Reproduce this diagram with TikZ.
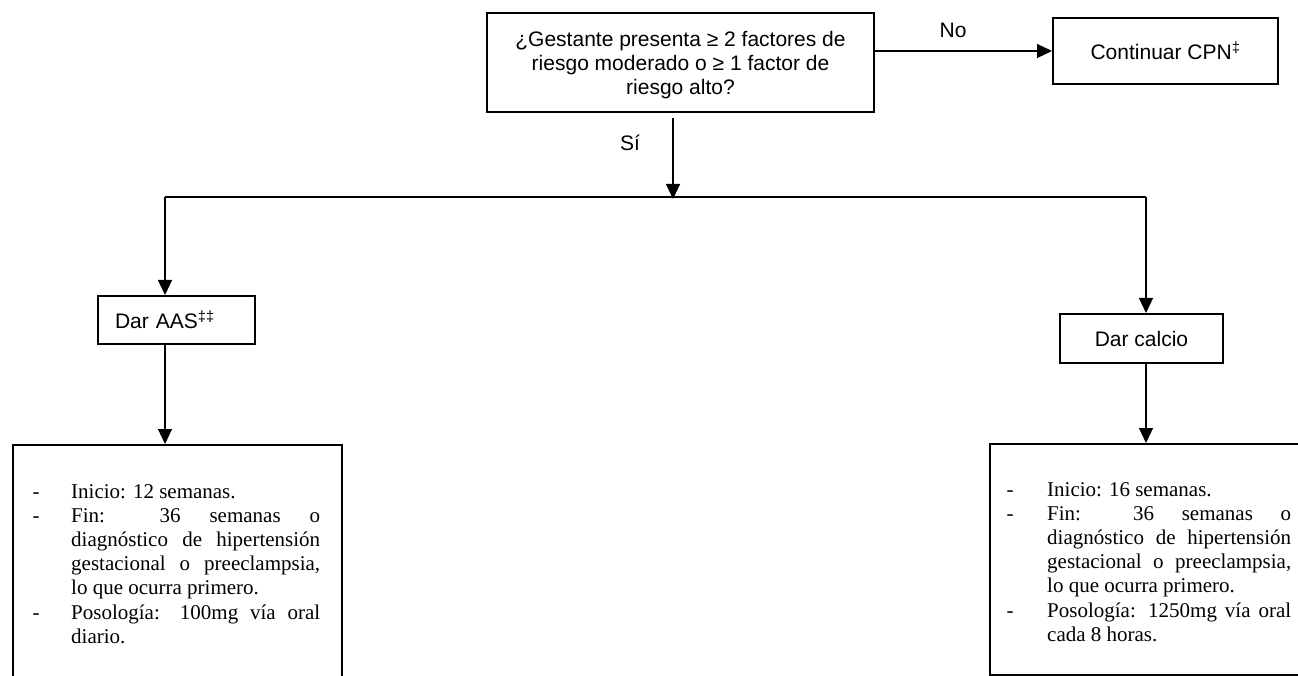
\documentclass[tikz,border=0pt]{standalone}
\usepackage{fontspec}
\setmainfont{Liberation Serif}
\setsansfont{Liberation Sans}
\usetikzlibrary{arrows.meta}
\begin{document}
\begin{tikzpicture}[x=1pt,y=-1pt,
  box/.style={draw, line width=2pt, inner sep=0pt, font=\sffamily\fontsize{21}{24}\selectfont},
  conn/.style={line width=1.1pt},
  arr/.style={conn, -{Triangle[width=14pt,length=15pt]}},
  lbl/.style={font=\sffamily\fontsize{21}{24}\selectfont, inner sep=0pt},
  listbox/.style={font=\fontsize{21}{24.2}\selectfont, inner sep=0pt, anchor=north west, align=justify}]
\useasboundingbox (0,0) rectangle (1298,676);
\clip (0,0) rectangle (1298,676);

\node[box, minimum width=387pt, minimum height=99pt] (q) at (680.5,62.5) {};
\node[lbl, align=center] (qt) at (680.5,65) {¿Gestante presenta ≥ 2 factores de\\riesgo moderado o ≥ 1 factor de\\riesgo alto?};
\node[box, minimum width=225pt, minimum height=66pt] (cpn) at (1165.5,51) {Continuar CPN\textsuperscript{‡}};
\draw[arr] (q.east |- cpn.west) -- (cpn.west);
\node[lbl] (no) at (953,30) {No};

\coordinate (s1) at (673,118);
\coordinate (j) at (673,199);
\draw[arr] (s1) -- (j);
\node[lbl] (si) at (630,143) {Sí};

\coordinate (hl) at (165,197);
\coordinate (hr) at (1146,197);
\draw[conn] (hl) -- (hr);

\node[box, minimum width=157pt, minimum height=48pt, text width=123pt, align=left] (aas) at (176.5,320) {Dar AAS\textsuperscript{‡‡}};
\draw[arr] (hl) -- (hl |- aas.north);
\node[box, minimum width=163pt, minimum height=49pt] (cal) at (1141.5,338.5) {Dar calcio};
\draw[arr] (hr) -- (hr |- cal.north);

\node[box, anchor=north west, minimum width=329pt, minimum height=300pt] (bl) at (12,444) {};
\node[box, anchor=north west, minimum width=340pt, minimum height=231pt] (br) at (989,443) {};
\draw[arr] (hl |- aas.south) -- (hl |- bl.north);
\draw[arr] (hr |- cal.south) -- (hr |- br.north);

\node[listbox, text width=287.5pt] (lt) at (32.5,484) {\parindent=0pt
\hangindent=38.5pt\hangafter=1\makebox[38.5pt][l]{-}Inicio: 12 semanas.\par
\hangindent=38.5pt\hangafter=1\makebox[38.5pt][l]{-}Fin: 36 semanas o\linebreak diagnóstico de hipertensión\linebreak gestacional o preeclampsia,\linebreak lo que ocurra primero.\par
\hangindent=38.5pt\hangafter=1\makebox[38.5pt][l]{-}Posología: 100mg vía oral\linebreak diario.\par};

\node[listbox, text width=284.5pt] (rt) at (1006.5,482) {\parindent=0pt
\hangindent=40.5pt\hangafter=1\makebox[40.5pt][l]{-}Inicio: 16 semanas.\par
\hangindent=40.5pt\hangafter=1\makebox[40.5pt][l]{-}Fin: 36 semanas o\linebreak diagnóstico de hipertensión\linebreak gestacional o preeclampsia,\linebreak lo que ocurra primero.\par
\hangindent=40.5pt\hangafter=1\makebox[40.5pt][l]{-}Posología: 1250mg vía oral\linebreak cada 8 horas.\par};
\end{tikzpicture}
\end{document}
